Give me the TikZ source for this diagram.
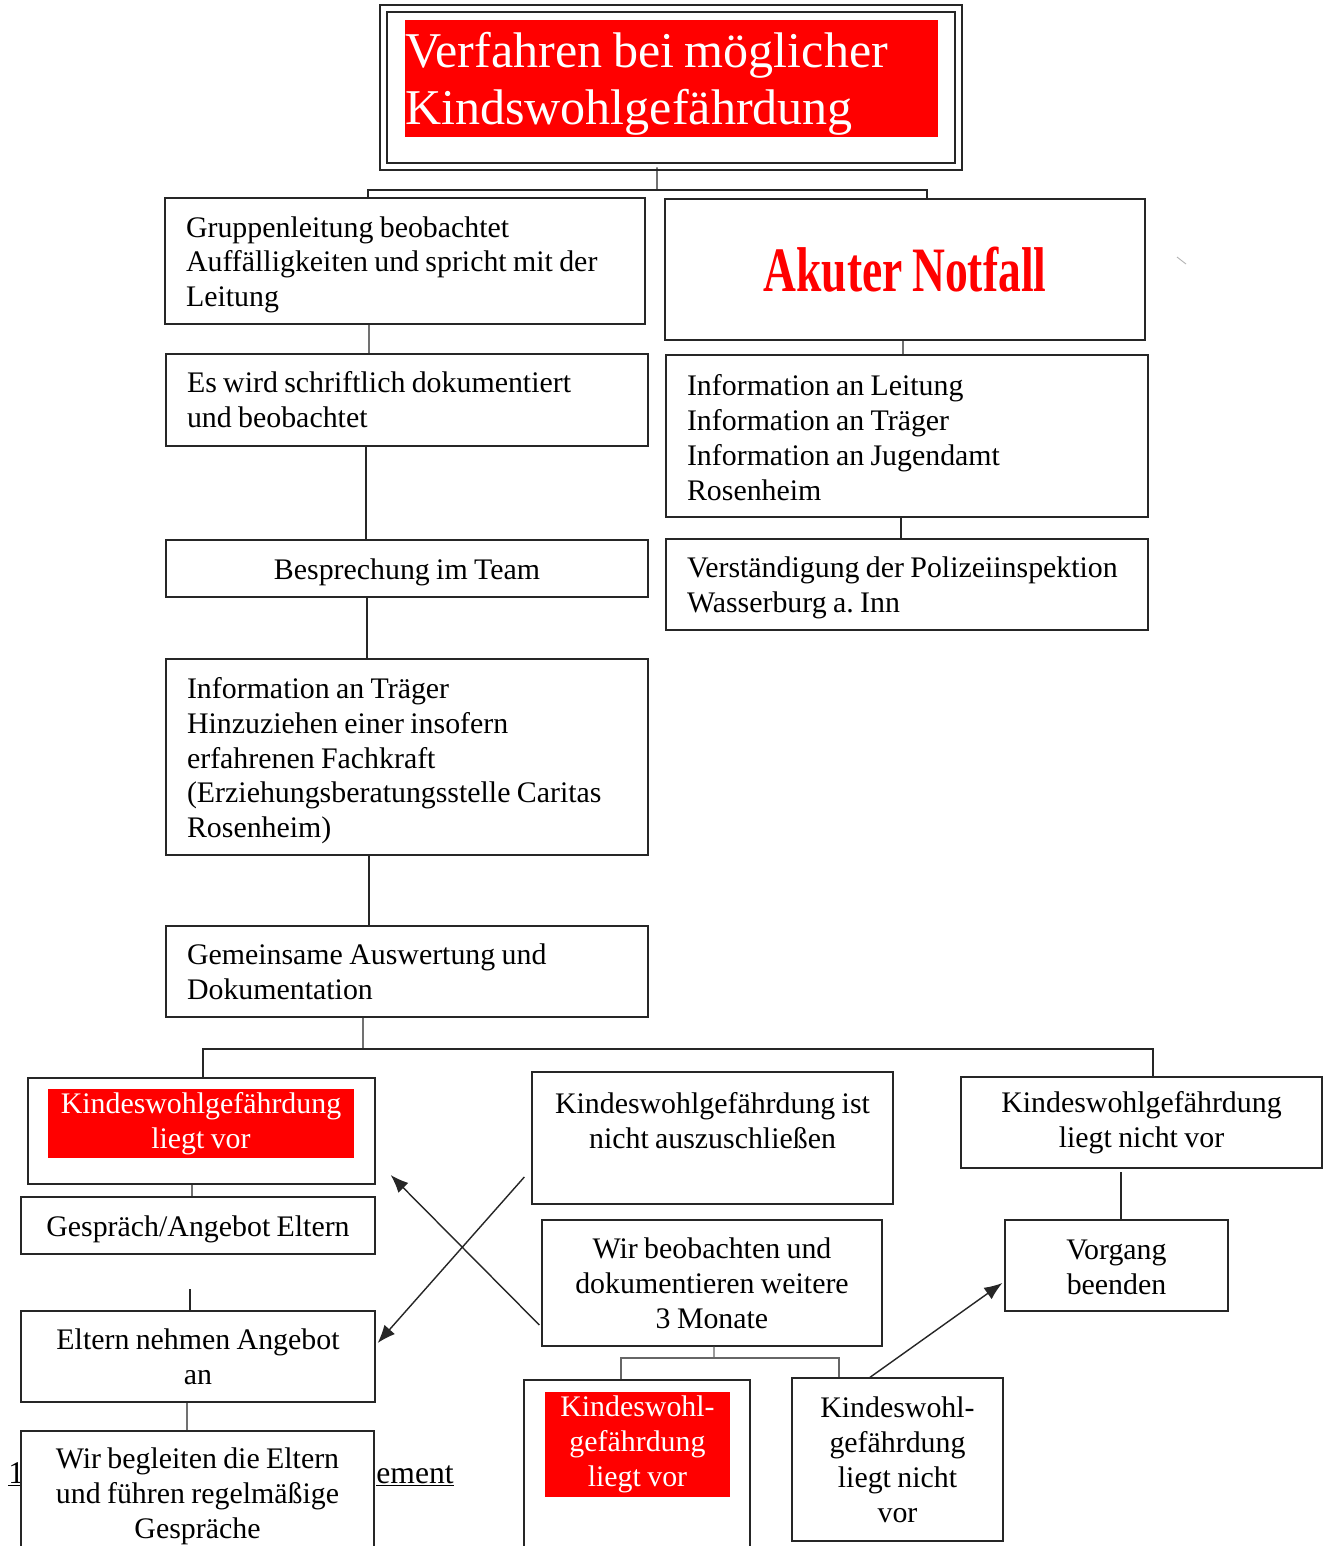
\documentclass[tikz,border=0pt]{standalone}
\usepackage{fontspec}
\setmainfont{Liberation Serif}[WordSpace=0.85]
\usetikzlibrary{arrows.meta}
\frenchspacing
\tikzstyle{kasten}=[
        draw = black!85,
        line width = 0.8pt,
        fill = white,
        rectangle,
        inner ysep = 0.1cm
    ]
\tikzstyle{links}=[
    kasten,
    align = flush left,
    inner xsep = 0.42cm
]
\tikzstyle{mitte}=[
    kasten,
    align = center,
    inner xsep = 0.1cm
]
\tikzstyle{rot}=[
    fill = red,
    text = white,
    inner sep = 0pt,
    align = center
]
\tikzstyle{tief}=[
    execute at begin node = {\rule{0pt}{0.95em}}
]
\newcommand{\grundtext}{\fontsize{17}{19.9}\selectfont}

\begin{document}
\begin{tikzpicture}[x=0.02cm, y=-0.02cm, font=\grundtext,
        linie/.style = {draw = black!85, line width = 0.8pt},
        pfeil/.style = {linie, -{Latex[length=3.6mm, width=2.8mm]}}]
        \useasboundingbox (0,0) rectangle (1326,1546);
        \fill[white] (0,0) rectangle (1326,1546);

        % Kopf
        \node[kasten, double, double distance = 0.1cm, line width = 0.9pt, minimum width = 11.5cm, minimum height = 3.16cm] (titel) at (671,87.5) {};
        \node[rot, align = flush left, text width = 10.66cm, minimum height = 2.34cm, font = \fontsize{28.5}{32.4}\selectfont, execute at begin node = {\rule{0pt}{0.9em}}] (titeltext) at (671.5,78.5) {Verfahren bei möglicher\\Kindswohlgefährdung};

        % linke Spalte
        \node[links, tief, text width = 8.76cm, minimum height = 2.52cm] (beobachtet) at (405,261) {Gruppenleitung beobachtet\\Auffälligkeiten und spricht mit der\\Leitung};
        \node[links, text width = 8.8cm, minimum height = 1.84cm] (doku) at (407,400) {Es wird schriftlich dokumentiert\\und beobachtet};
        \node[mitte, tief, minimum width = 9.64cm, minimum height = 1.14cm] (team) at (407,568.5) {Besprechung im Team};
        \node[links, tief, text width = 8.8cm, minimum height = 3.92cm] (traeger) at (407,757) {Information an Träger\\Hinzuziehen einer insofern\\erfahrenen Fachkraft\\(Erziehungsberatungsstelle Caritas\\Rosenheim)};
        \node[links, text width = 8.8cm, minimum height = 1.82cm] (auswertung) at (407,971.5) {Gemeinsame Auswertung und\\Dokumentation};

        % rechte Spalte
        \node[mitte, minimum width = 9.6cm, minimum height = 2.82cm, text = red, font = \fontsize{36}{40}\selectfont\bfseries] (notfall) at (905,269.5) {\scalebox{0.72}[1]{Akuter Notfall}};
        \node[links, text width = 8.8cm, minimum height = 3.24cm] (info) at (907,436) {\rule{0pt}{0.8em}Information an Leitung\\Information an Träger\\Information an Jugendamt\\Rosenheim};
        \node[links, tief, text width = 8.8cm, minimum height = 1.82cm] (polizei) at (907,584.5) {Verständigung der Polizeiinspektion\\Wasserburg a. Inn};

        % unten links
        \node[kasten, minimum width = 6.94cm, minimum height = 2.12cm] (liegtvor) at (201.5,1131) {};
        \node[rot, tief, minimum width = 6.12cm, minimum height = 1.38cm] (liegtvortext) at (201,1123.5) {Kindeswohlgefährdung\\liegt vor};
        \node[mitte, tief, minimum width = 7.08cm, minimum height = 1.14cm] (gespraech) at (198,1225.5) {Gespräch/Angebot Eltern};
        \node[mitte, minimum width = 7.08cm, minimum height = 1.82cm] (angebot) at (198,1356.5) {Eltern nehmen Angebot\\an};
        \node[anchor = base west, inner sep = 0pt, font = \fontsize{18}{20}\selectfont] (kopfa) at (8,1483) {\underline{1}};
        \node[anchor = base east, inner sep = 0pt, font = \fontsize{18}{20}\selectfont] (kopfb) at (454,1483) {\underline{ement}};
        \node[mitte, minimum width = 7.06cm, minimum height = 2.6cm] (begleiten) at (197.5,1496) {Wir begleiten die Eltern\\und führen regelmäßige\\Gespräche};

        % Mitte
        \node[mitte, minimum width = 7.22cm, minimum height = 2.64cm] (offen) at (712.5,1138) {Kindeswohlgefährdung ist\\nicht auszuschließen\\~};
        \node[mitte, minimum width = 6.8cm, minimum height = 2.52cm] (weiter) at (712,1283) {Wir beobachten und\\dokumentieren weitere\\3 Monate};
        \node[kasten, minimum width = 4.52cm, minimum height = 4cm] (vor2) at (637,1480) {};
        \node[rot, tief, minimum width = 3.7cm, minimum height = 2.1cm] (vor2text) at (637.5,1444.5) {Kindeswohl-\\gefährdung\\liegt vor};
        \node[mitte, minimum width = 4.22cm, minimum height = 3.26cm] (nichtvor2) at (897.5,1459.5) {Kindeswohl-\\gefährdung\\liegt nicht\\vor};

        % unten rechts
        \node[mitte, tief, minimum width = 7.22cm, minimum height = 1.82cm] (nichtvor) at (1141.5,1122.5) {Kindeswohlgefährdung\\liegt nicht vor};
        \node[mitte, minimum width = 4.46cm, minimum height = 1.82cm] (vorgang) at (1116.5,1265.5) {\rule{0pt}{0.8em}Vorgang\\beenden};

        % Verbindungen
        \coordinate (split1) at (657,190);
        \coordinate (split2) at (363,1049);
        \coordinate (split3) at (714,1358);
        \draw[linie] ([xshift=-0.28cm]titel.south) -- (split1);
        \draw[linie, line width = 1.2pt] ([xshift=-0.74cm]beobachtet.north) |- (split1) -| ([xshift=0.44cm]notfall.north);
        \draw[linie] ([xshift=-0.72cm]beobachtet.south) -- ([xshift=-0.76cm]doku.north);
        \draw[linie] ([xshift=-0.82cm]doku.south) -- ([xshift=-0.82cm]team.north);
        \draw[linie] ([xshift=-0.8cm]team.south) -- ([xshift=-0.8cm]traeger.north);
        \draw[linie] ([xshift=-0.76cm]traeger.south) -- ([xshift=-0.76cm]auswertung.north);
        \draw[linie] ([xshift=-0.88cm]auswertung.south) -- (split2);
        \draw[linie] ([xshift=0.03cm]liegtvor.north) |- (split2) -| ([xshift=0.23cm]nichtvor.north);
        \draw[linie] ([xshift=-0.04cm]notfall.south) -- ([xshift=-0.08cm]info.north);
        \draw[linie] ([xshift=-0.12cm]info.south) -- ([xshift=-0.12cm]polizei.north);
        \draw[linie] ([xshift=-0.19cm]liegtvor.south) -- ([xshift=-0.12cm]gespraech.north);
        \draw[linie] ([xshift=-0.16cm]angebot.north) -- ++(0,-21);
        \draw[linie] ([xshift=-0.22cm]angebot.south) -- ([xshift=-0.21cm]begleiten.north);
        \draw[linie] ([xshift=0.09cm]vorgang.north) -- ++(0,-47);
        \draw[linie, draw = black!60, line width = 0.6pt] ([xshift=0.04cm]weiter.south) -- (split3);
        \draw[linie, draw = black!60, line width = 0.6pt] ([xshift=-0.32cm]vor2.north) |- (split3) -| ([xshift=-1.17cm]nichtvor2.north);

        \draw[pfeil] ([xshift=-0.14cm, yshift=-0.78cm]offen.west) -- ([xshift=0.04cm, yshift=0.27cm]angebot.east);
        \draw[pfeil] ([xshift=-0.04cm, yshift=-0.84cm]weiter.west) -- ([xshift=0.3cm, yshift=-0.88cm]liegtvor.east);
        \draw[pfeil] ([xshift=-0.55cm]nichtvor2.north) -- ([xshift=-0.04cm, yshift=-0.35cm]vorgang.west);

        \coordinate (strich1) at (1177,257);
        \coordinate (strich2) at (1186,264);
        \draw[gray!60, line width = 0.5pt] (strich1) -- (strich2);

    \end{tikzpicture}
\end{document}
